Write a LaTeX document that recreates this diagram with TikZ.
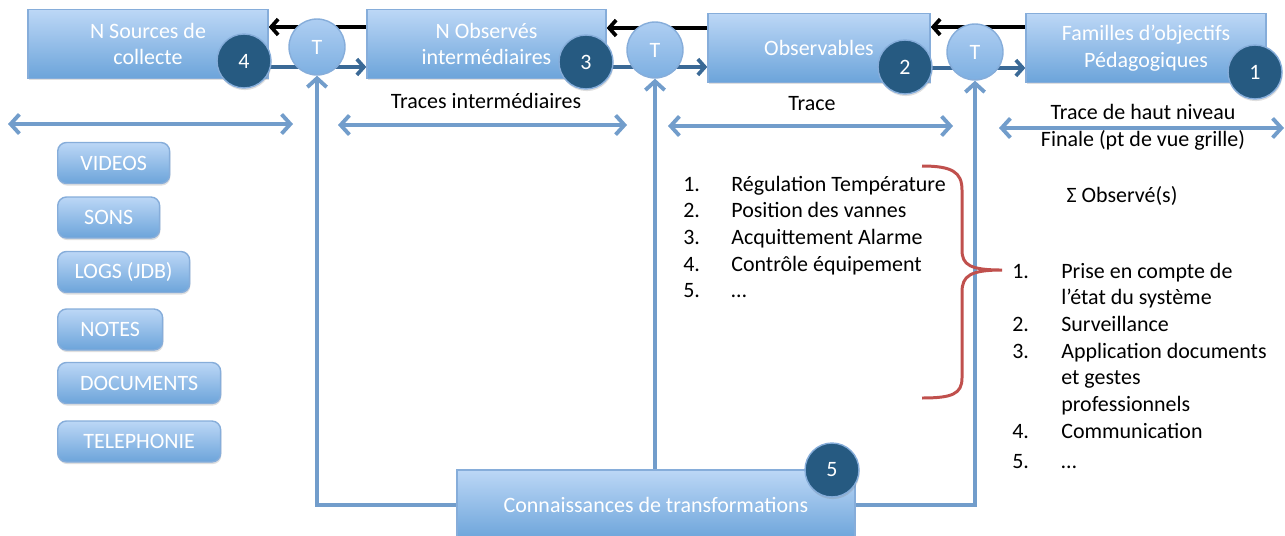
\documentclass[tikz,border=0pt]{standalone}
\usepackage{fontspec}
\setmainfont{Carlito}
\usepackage{tikz}
\usetikzlibrary{
  arrows.meta,
  positioning,
  backgrounds,
  shadows
}
\definecolor{boxtop}{HTML}{BCD7F6}
\definecolor{boxbot}{HTML}{6CA4DA}
\definecolor{boxline}{HTML}{86ADDA}
\definecolor{numfill}{HTML}{265A81}
\definecolor{ttop}{HTML}{AECEF2}
\definecolor{tbot}{HTML}{7DAFE1}
\definecolor{fwdcol}{HTML}{3A6996}
\definecolor{linkcol}{HTML}{729DCB}
\definecolor{bracecol}{HTML}{C0504D}

\begin{document}
\begin{tikzpicture}[
  x=0.02cm, y=-0.02cm,
  txt/.style={font=\fontsize{12.5}{15.2}\selectfont},
  bigbox/.style={txt, draw=boxline, line width=0.8pt, top color=boxtop,
                 bottom color=boxbot, text=white, align=center,
                 minimum height=1.37cm,
                 drop shadow={opacity=0.25, shadow xshift=0.4pt, shadow yshift=-1.2pt}},
  srcbox/.style={bigbox, rounded corners=5pt, minimum height=0.82cm,
                 anchor=west, inner xsep=0pt},
  num/.style={circle, txt, fill=numfill, draw=boxline, line width=0.8pt,
              text=white, minimum size=1.08cm, inner sep=0pt,
              drop shadow={opacity=0.25, shadow xshift=0.4pt, shadow yshift=-1.2pt}},
  tnode/.style={circle, txt, draw=boxline, line width=0.8pt, top color=ttop,
                bottom color=tbot, text=white, minimum size=1.12cm, inner sep=0pt},
  back/.style={-{Straight Barb[length=4pt,width=9pt]}, line width=2.1pt, black},
  fwd/.style={-{Straight Barb[length=4pt,width=9pt]}, line width=2.1pt, fwdcol},
  link/.style={-{Straight Barb[length=5pt,width=11pt]}, line width=2.2pt, linkcol},
  dblarrow/.style={link, {Straight Barb[length=5pt,width=11pt]}-{Straight Barb[length=5pt,width=11pt]}},
]
  \useasboundingbox (0,0) rectangle (1285,535);

  % Chaine principale
  \node[bigbox, minimum width=4.8cm]  (src)  at (148,44)   {N Sources de\\collecte};
  \node[bigbox, minimum width=4.78cm] (obs)  at (486.5,44) {N Observés\\intermédiaires};
  \node[bigbox, minimum width=4.44cm] (obsv) at (819,48)   {Observables};
  \node[bigbox, minimum width=4.8cm]  (fam)  at (1146,48)  {Familles d’objectifs\\Pédagogiques};

  \node[num] (n4) at (244,61)  {4};
  \node[num] (n3) at (586,62)  {3};
  \node[num] (n2) at (905,67)  {2};
  \node[num] (n1) at (1255,72) {1};

  \node[tnode] (t1) at (317,47) {T};
  \node[tnode] (t2) at (655,50) {T};
  \node[tnode] (t3) at (975,52) {T};

  % Connaissances
  \node[bigbox, minimum width=7.96cm, minimum height=1.4cm] (conn) at (656,505)
    {Connaissances de transformations};
  \node[num] (n5) at (832,470) {5};

  \begin{scope}[on background layer]
    \draw[back] ([yshift=0.34cm]obs.west) -- ([yshift=0.34cm]obs.west -| src.east);
    \draw[back] ([yshift=0.4cm]obsv.west) -- ([yshift=0.4cm]obsv.west -| obs.east);
    \draw[back] ([yshift=0.42cm]fam.west) -- ([yshift=0.42cm]fam.west -| obsv.east);
    \draw[fwd] ([yshift=-0.46cm]src.east) -- ([yshift=-0.46cm]src.east -| obs.west);
    \draw[fwd] ([yshift=-0.46cm]obs.east) -- ([yshift=-0.46cm]obs.east -| obsv.west);
    \draw[fwd] ([yshift=-0.4cm]obsv.east) -- ([yshift=-0.4cm]obsv.east -| fam.west);
    \draw[link] (conn.west) -| (t1.south);
    \draw[link] (conn.north -| t2.south) -- (t2.south);
    \draw[link] (conn.east) -| (t3.south);
  \end{scope}

  % Niveaux de trace
  \coordinate (l1) at (8,124);    \coordinate (r1) at (293,124);
  \coordinate (l2) at (338,125);  \coordinate (r2) at (627,125);
  \coordinate (l3) at (668,126);  \coordinate (r3) at (953,126);
  \coordinate (l4) at (999,128);  \coordinate (r4) at (1284,128);
  \draw[dblarrow] (l1) -- (r1);
  \draw[dblarrow] (l2) -- (r2);
  \draw[dblarrow] (l3) -- (r3);
  \draw[dblarrow] (l4) -- (r4);

  \node[txt] (tinter) at (486,101) {Traces intermédiaires};
  \node[txt] (trace)  at (812,104) {Trace};
  \node[txt, align=center] (thaut) at (1143,127)
    {Trace de haut niveau\\Finale (pt de vue grille)};

  % Sources
  \node[srcbox, minimum width=2.24cm] (vid)   at (57,163)   {VIDEOS};
  \node[srcbox, minimum width=2.04cm] (sons)  at (57,217.5) {SONS};
  \node[srcbox, minimum width=2.64cm] (logs)  at (57,272)   {LOGS (JDB)};
  \node[srcbox, minimum width=2.1cm]  (notes) at (57,329.5) {NOTES};
  \node[srcbox, minimum width=3.26cm] (docs)  at (57,383)   {DOCUMENTS};
  \node[srcbox, minimum width=3.26cm] (tel)   at (57,441.5) {TELEPHONIE};

  % Listes
  \node[txt, anchor=base west, inner sep=0pt] (obslist) at (683,191)
    {\begin{tabular}[t]{@{}p{0.96cm}@{}l@{}}
      1. & Régulation Température\\
      2. & Position des vannes\\
      3. & Acquittement Alarme\\
      4. & Contrôle équipement\\
      5. & …
    \end{tabular}};

  \node[txt] (sigma) at (1122,196) {Σ Observé(s)};
  \node[txt, anchor=base west, inner sep=0pt] (famlist) at (1012,278)
    {\begin{tabular}[t]{@{}p{0.98cm}@{}l@{}}
      1. & Prise en compte de\\
         & l’état du système\\
      2. & Surveillance\\
      3. & Application documents\\
         & et gestes\\
         & professionnels\\
      4. & Communication\\[2pt]
      5. & …
    \end{tabular}};

  % Accolade
  \draw[bracecol, line width=1.7pt]
    (922,166) .. controls (952,166) and (962,172) .. (962,190) -- (962,250)
    .. controls (962,265) and (970,270) .. (1002,270)
    .. controls (970,270) and (962,276) .. (962,292) -- (962,378)
    .. controls (962,394) and (952,398) .. (922,398);
\end{tikzpicture}
\end{document}
